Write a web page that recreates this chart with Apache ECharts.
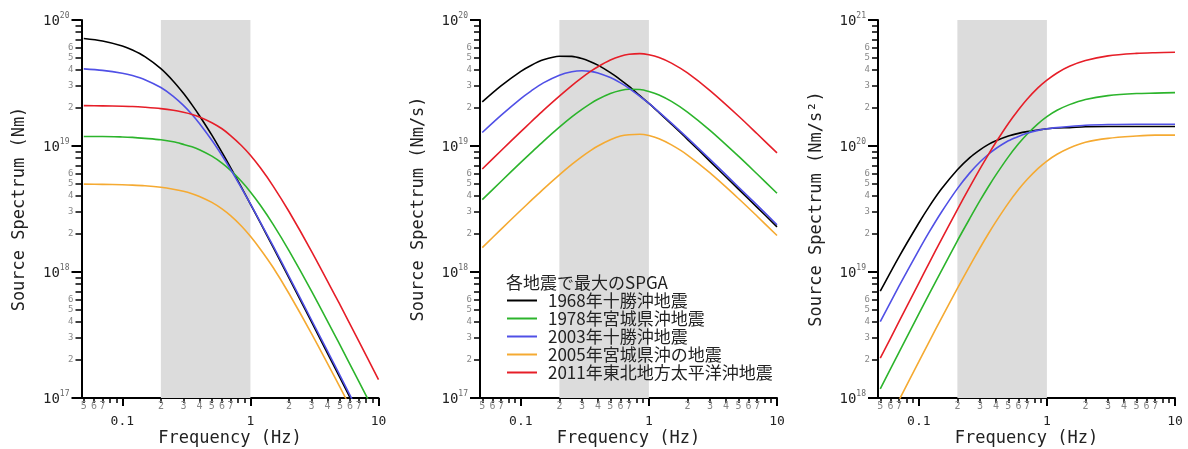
<!DOCTYPE html>
<html>
<head>
<meta charset="utf-8">
<title>Source spectra</title>
<script src="https://cdn.jsdelivr.net/npm/echarts@6/dist/echarts.min.js"></script>
<style>
  html, body { margin: 0; padding: 0; background: #fff; }
  #chart { width: 1188px; height: 449px; }
</style>
</head>
<body>
<div id="chart"></div>
<script>
(function () {
  'use strict';

  // frequency samples (Hz) at which the curves were read
  var freq = [0.05, 0.07, 0.1, 0.12, 0.15, 0.2, 0.25, 0.3, 0.35, 0.4, 0.5, 0.6, 0.7, 0.85, 1, 1.2, 1.5, 2, 3, 5, 7, 10];

  var quakeNames = ['1968年十勝沖地震', '1978年宮城県沖地震', '2003年十勝沖地震', '2005年宮城県沖の地震', '2011年東北地方太平洋沖地震'];
  var quakeColors = ['#000000', '#2cb42c', '#5050e6', '#f5aa32', '#e61e28'];

  // left panel: source spectrum (Nm)
  var disp1968 = [7.13e19, 6.81e19, 6.22e19, 5.78e19, 5.12e19, 4.11e19, 3.27e19, 2.62e19, 2.12e19, 1.74e19, 1.22e19, 8.89e18, 6.74e18, 4.71e18, 3.46e18, 2.44e18, 1.58e18, 8.97e17, 4.01e17, 1.45e17, 7.40e16, 3.63e16];
  var disp1978 = [1.19e19, 1.19e19, 1.18e19, 1.17e19, 1.15e19, 1.12e19, 1.08e19, 1.03e19, 9.85e18, 9.34e18, 8.31e18, 7.32e18, 6.41e18, 5.25e18, 4.32e18, 3.37e18, 2.40e18, 1.48e18, 7.06e17, 2.64e17, 1.36e17, 6.71e16];
  var disp2003 = [4.09e19, 3.98e19, 3.78e19, 3.62e19, 3.36e19, 2.91e19, 2.48e19, 2.10e19, 1.78e19, 1.51e19, 1.11e19, 8.40e18, 6.52e18, 4.65e18, 3.47e18, 2.47e18, 1.62e18, 9.24e17, 4.16e17, 1.51e17, 7.70e16, 3.78e16];
  var disp2005 = [4.98e18, 4.96e18, 4.92e18, 4.89e18, 4.83e18, 4.70e18, 4.54e18, 4.37e18, 4.18e18, 3.98e18, 3.57e18, 3.17e18, 2.80e18, 2.32e18, 1.92e18, 1.51e18, 1.09e18, 6.75e17, 3.24e17, 1.22e17, 6.29e16, 3.10e16];
  var disp2011 = [2.09e19, 2.08e19, 2.07e19, 2.06e19, 2.03e19, 1.98e19, 1.92e19, 1.85e19, 1.78e19, 1.70e19, 1.53e19, 1.37e19, 1.21e19, 1.01e19, 8.44e18, 6.68e18, 4.83e18, 3.02e18, 1.46e18, 5.50e17, 2.84e17, 1.40e17];

  // middle panel: source spectrum (Nm/s)
  var vel1968 = [2.24e19, 3.00e19, 3.91e19, 4.36e19, 4.83e19, 5.16e19, 5.14e19, 4.94e19, 4.67e19, 4.38e19, 3.82e19, 3.35e19, 2.97e19, 2.51e19, 2.18e19, 1.84e19, 1.49e19, 1.13e19, 7.56e18, 4.55e18, 3.26e18, 2.28e18];
  var vel1978 = [3.75e18, 5.23e18, 7.41e18, 8.82e18, 1.09e19, 1.41e19, 1.70e19, 1.95e19, 2.17e19, 2.35e19, 2.61e19, 2.76e19, 2.82e19, 2.81e19, 2.71e19, 2.54e19, 2.26e19, 1.86e19, 1.33e19, 8.30e18, 5.99e18, 4.22e18];
  var vel2003 = [1.28e19, 1.75e19, 2.38e19, 2.73e19, 3.17e19, 3.65e19, 3.89e19, 3.96e19, 3.91e19, 3.80e19, 3.49e19, 3.17e19, 2.87e19, 2.48e19, 2.18e19, 1.86e19, 1.52e19, 1.16e19, 7.84e18, 4.73e18, 3.39e18, 2.37e18];
  var vel2005 = [1.56e18, 2.18e18, 3.09e18, 3.68e18, 4.55e18, 5.90e18, 7.14e18, 8.24e18, 9.19e18, 1.00e19, 1.12e19, 1.20e19, 1.23e19, 1.24e19, 1.21e19, 1.14e19, 1.02e19, 8.48e18, 6.11e18, 3.83e18, 2.77e18, 1.95e18];
  var vel2011 = [6.57e18, 9.17e18, 1.30e19, 1.55e19, 1.92e19, 2.49e19, 3.02e19, 3.49e19, 3.91e19, 4.26e19, 4.81e19, 5.16e19, 5.34e19, 5.41e19, 5.30e19, 5.04e19, 4.55e19, 3.80e19, 2.75e19, 1.73e19, 1.25e19, 8.81e18];

  // right panel: source spectrum (Nm/s^2)
  var acc1968 = [7.04e18, 1.32e19, 2.45e19, 3.29e19, 4.55e19, 6.48e19, 8.08e19, 9.32e19, 1.03e20, 1.10e20, 1.20e20, 1.26e20, 1.30e20, 1.34e20, 1.37e20, 1.39e20, 1.40e20, 1.42e20, 1.43e20, 1.43e20, 1.43e20, 1.43e20];
  var acc1978 = [1.18e18, 2.30e18, 4.65e18, 6.65e18, 1.02e19, 1.77e19, 2.66e19, 3.68e19, 4.77e19, 5.90e19, 8.20e19, 1.04e20, 1.24e20, 1.50e20, 1.71e20, 1.92e20, 2.13e20, 2.34e20, 2.51e20, 2.61e20, 2.63e20, 2.65e20];
  var acc2003 = [4.03e18, 7.71e18, 1.49e19, 2.06e19, 2.98e19, 4.59e19, 6.12e19, 7.46e19, 8.60e19, 9.55e19, 1.10e20, 1.19e20, 1.26e20, 1.33e20, 1.37e20, 1.40e20, 1.43e20, 1.46e20, 1.48e20, 1.49e20, 1.49e20, 1.49e20];
  var acc2005 = [4.92e17, 9.60e17, 1.94e18, 2.78e18, 4.29e18, 7.42e18, 1.12e19, 1.55e19, 2.02e19, 2.51e19, 3.52e19, 4.51e19, 5.42e19, 6.61e19, 7.59e19, 8.59e19, 9.64e19, 1.07e20, 1.15e20, 1.20e20, 1.22e20, 1.22e20];
  var acc2011 = [2.07e18, 4.03e18, 8.17e18, 1.17e19, 1.81e19, 3.13e19, 4.74e19, 6.58e19, 8.59e19, 1.07e20, 1.51e20, 1.94e20, 2.35e20, 2.89e20, 3.33e20, 3.80e20, 4.29e20, 4.77e20, 5.19e20, 5.43e20, 5.50e20, 5.54e20];

  // shaded frequency band (Hz)
  var bandHz = [0.2, 1];

  // axes
  var xRange = [0.048, 10];
  var xMajorTicks = [0.1, 1, 10];
  var xMinorTicks = [0.05, 0.06, 0.07, 0.08, 0.09, 0.2, 0.3, 0.4, 0.5, 0.6, 0.7, 0.8, 0.9, 2, 3, 4, 5, 6, 7, 8, 9];
  var xMinorLabels = [0.05, 0.06, 0.07, 0.2, 0.3, 0.4, 0.5, 0.6, 0.7, 2, 3, 4, 5, 6, 7];
  var yMinorDigits = [2, 3, 4, 5, 6, 7, 8, 9];
  var yLabelDigits = [2, 3, 4, 5, 6];

  var panels = [
    {name: 'Source Spectrum (Nm)', range: [1e17, 1e20], decades: [1e17, 1e18, 1e19, 1e20],
      series: [disp1968, disp1978, disp2003, disp2005, disp2011]},
    {name: 'Source Spectrum (Nm/s)', range: [1e17, 1e20], decades: [1e17, 1e18, 1e19, 1e20],
      series: [vel1968, vel1978, vel2003, vel2005, vel2011]},
    {name: 'Source Spectrum (Nm/s\u00b2)', range: [1e18, 1e21], decades: [1e18, 1e19, 1e20, 1e21],
      series: [acc1968, acc1978, acc2003, acc2005, acc2011]}
  ];
  var gridLeft = [81.5, 480, 878];

  var MONO = "'DejaVu Sans Mono', 'Liberation Mono', monospace";
  var CJK = "'Noto Sans CJK JP', 'Noto Sans', sans-serif";

  function leadDigit(v) {
    var e = Math.floor(Math.log10(v) + 1e-9);
    return String(Math.round(v / Math.pow(10, e)));
  }
  function decadeLabel(v) {
    return '{b|10}{s|' + Math.round(Math.log10(v)) + '}';
  }
  function freqLabel(v) {
    return String(+v.toPrecision(3));
  }
  function minorOf(decades, digits) {
    var out = [];
    for (var i = 0; i < decades.length - 1; i++) {
      digits.forEach(function (d) { out.push(d * decades[i]); });
    }
    return out;
  }
  // keep tick values just inside the axis extent (log rounding drops exact ends)
  function inside(vals, range) {
    return vals.map(function (v) {
      return Math.min(Math.max(v, range[0] * (1 + 1e-9)), range[1] * (1 - 1e-9));
    });
  }

  var grids = [], xAxes = [], yAxes = [], series = [];
  panels.forEach(function (p, i) {
    grids.push({left: gridLeft[i], top: 20, width: 297, height: 378, outerBoundsMode: 'none'});

    xAxes.push({
      type: 'log', gridIndex: i, min: xRange[0], max: xRange[1], position: 'bottom',
      axisLine: {show: true, lineStyle: {color: '#000', width: 2}},
      axisTick: {customValues: inside(xMajorTicks, xRange), length: 8, lineStyle: {color: '#000', width: 2}},
      axisLabel: {customValues: inside(xMajorTicks, xRange), margin: 17, formatter: freqLabel,
        fontSize: 13, fontFamily: MONO, color: '#222'},
      splitLine: {show: false},
      name: 'Frequency (Hz)', nameLocation: 'middle', nameGap: 32, nameMoveOverlap: false,
      nameTextStyle: {fontSize: 17, fontFamily: MONO, color: '#222'}
    });
    xAxes.push({
      type: 'log', gridIndex: i, min: xRange[0], max: xRange[1], position: 'bottom', offset: 0,
      axisLine: {show: false},
      axisTick: {customValues: xMinorTicks, length: 5, lineStyle: {color: '#000', width: 1.5}},
      axisLabel: {customValues: xMinorLabels, margin: 3, formatter: leadDigit,
        fontSize: 10, fontFamily: MONO, color: '#888'},
      splitLine: {show: false}
    });

    yAxes.push({
      type: 'log', gridIndex: i, min: p.range[0], max: p.range[1], position: 'left',
      axisLine: {show: true, lineStyle: {color: '#000', width: 2}},
      axisTick: {customValues: inside(p.decades, p.range), length: 10, lineStyle: {color: '#000', width: 2}},
      axisLabel: {customValues: inside(p.decades, p.range), margin: 12, formatter: decadeLabel,
        rich: {
          b: {fontSize: 14, lineHeight: 16, fontFamily: MONO, color: '#222', verticalAlign: 'bottom'},
          s: {fontSize: 8, lineHeight: 9, fontFamily: MONO, color: '#666', verticalAlign: 'top'}
        }},
      splitLine: {show: false},
      name: p.name, nameLocation: 'middle', nameRotate: 90, nameGap: 53, nameMoveOverlap: false,
      nameTextStyle: {fontSize: 17, fontFamily: MONO, color: '#222'}
    });
    yAxes.push({
      type: 'log', gridIndex: i, min: p.range[0], max: p.range[1], position: 'left', offset: 0,
      axisLine: {show: false},
      axisTick: {customValues: minorOf(p.decades, yMinorDigits), length: 6, lineStyle: {color: '#000', width: 1.5}},
      axisLabel: {customValues: minorOf(p.decades, yLabelDigits), margin: 8, formatter: leadDigit,
        fontSize: 9, fontFamily: MONO, color: '#888'},
      splitLine: {show: false}
    });

    p.series.forEach(function (vals, q) {
      var s = {
        type: 'line', name: quakeNames[q], xAxisIndex: 2 * i, yAxisIndex: 2 * i,
        data: freq.map(function (f, k) { return [f, vals[k]]; }),
        symbol: 'none', showSymbol: false, smooth: 0.3, clip: true,
        color: quakeColors[q],
        lineStyle: {color: quakeColors[q], width: 1.6},
        z: 3
      };
      if (q === 0) {
        s.markArea = {silent: true, z: 1, itemStyle: {color: '#dcdcdc'},
          data: [[{xAxis: bandHz[0]}, {xAxis: bandHz[1]}]]};
      }
      series.push(s);
    });
  });

  var option = {
    animation: false,
    backgroundColor: '#fff',
    title: {
      text: '各地震で最大のSPGA', left: 506, top: 274, padding: 0,
      textStyle: {fontSize: 17, fontWeight: 'normal', fontFamily: CJK, color: '#222'}
    },
    legend: {
      data: quakeNames, left: 507, top: 292, orient: 'vertical', padding: 0,
      icon: 'rect', itemWidth: 30, itemHeight: 2, itemGap: 1, selectedMode: false,
      textStyle: {fontSize: 17, fontFamily: CJK, color: '#222', padding: [0, 0, 0, 6]}
    },
    grid: grids,
    xAxis: xAxes,
    yAxis: yAxes,
    series: series
  };

  echarts.init(document.getElementById('chart'), null, {renderer: 'canvas'}).setOption(option);
})();
</script>
</body>
</html>
